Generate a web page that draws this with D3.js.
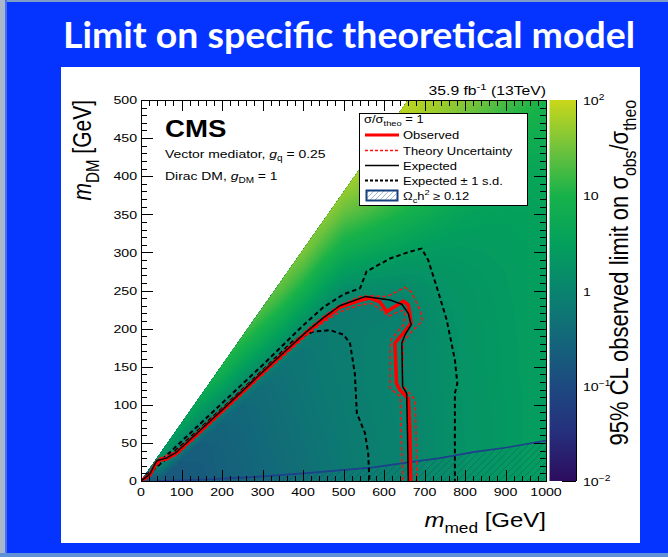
<!DOCTYPE html>
<html><head><meta charset="utf-8">
<script src="https://cdn.jsdelivr.net/npm/d3@7"></script>
<style>html,body{margin:0;padding:0;background:#0533ff;}svg{display:block;}</style>
</head><body>
<svg id="chart" width="668" height="557"></svg>
<script>
// ================= DATA =================
const titleText = "Limit on specific theoretical model";
const mMedNodes = [0,50,100,150,200,250,300,350,400,450,500,550,600,650,700,750,800,850,900,950,1000];
const mDMNodes  = [0,25,50,75,100,125,150,175,200,225,250,275,300,325,350,375,400,425,450,475,500];
// log10(sigma_obs/sigma_theo), one array per m_med node, values along m_DM nodes
const limitLog10 = [
 [-0.8,0.5,0.8,1.0,1.1,1.2,1.3,1.4,1.5,1.5,1.6,1.6,1.7,1.7,1.7,1.8,1.8,1.8,1.9,1.9,1.9],
 [-0.8,0.1,0.6,0.9,1.1,1.2,1.3,1.4,1.5,1.5,1.6,1.6,1.7,1.7,1.7,1.8,1.8,1.8,1.9,1.9,1.9],
 [-0.75,-0.72,0.1,0.55,0.9,1.1,1.25,1.35,1.45,1.5,1.55,1.6,1.65,1.7,1.7,1.75,1.8,1.8,1.85,1.9,1.9],
 [-0.7,-0.68,-0.66,0.1,0.5,0.9,1.1,1.25,1.35,1.45,1.5,1.55,1.6,1.65,1.7,1.75,1.8,1.8,1.85,1.9,1.9],
 [-0.63,-0.61,-0.59,-0.57,0.12,0.55,1.0,1.25,1.4,1.5,1.55,1.6,1.65,1.7,1.75,1.8,1.8,1.85,1.85,1.9,1.9],
 [-0.57,-0.55,-0.53,-0.51,-0.49,0.12,0.52,0.95,1.3,1.45,1.55,1.6,1.65,1.7,1.75,1.8,1.8,1.85,1.85,1.9,1.9],
 [-0.5,-0.48,-0.46,-0.44,-0.42,-0.4,0.15,0.55,0.95,1.3,1.5,1.6,1.65,1.7,1.75,1.8,1.8,1.85,1.85,1.9,1.9],
 [-0.43,-0.41,-0.39,-0.37,-0.35,-0.33,-0.31,0.15,0.55,0.95,1.3,1.55,1.65,1.7,1.75,1.8,1.8,1.85,1.85,1.9,1.9],
 [-0.36,-0.34,-0.32,-0.3,-0.28,-0.26,-0.25,-0.24,0.15,0.5,0.9,1.25,1.55,1.7,1.75,1.8,1.82,1.85,1.87,1.9,1.9],
 [-0.28,-0.27,-0.25,-0.23,-0.21,-0.19,-0.18,-0.17,-0.17,0.15,0.45,0.8,1.15,1.45,1.7,1.8,1.84,1.86,1.88,1.9,1.9],
 [-0.2,-0.19,-0.18,-0.17,-0.16,-0.15,-0.14,-0.13,-0.13,-0.15,0.15,0.45,0.8,1.1,1.4,1.65,1.8,1.85,1.88,1.9,1.92],
 [-0.13,-0.12,-0.11,-0.1,-0.09,-0.08,-0.08,-0.08,-0.09,-0.12,0.12,0.35,0.65,0.95,1.25,1.5,1.72,1.82,1.88,1.9,1.92],
 [-0.07,-0.07,-0.07,-0.06,-0.06,-0.04,-0.03,-0.03,-0.05,-0.12,0.1,0.3,0.55,0.82,1.1,1.35,1.58,1.75,1.86,1.9,1.92],
 [-0.03,-0.03,-0.03,-0.02,0.0,0.05,0.05,0.05,-0.04,-0.1,0.1,0.25,0.45,0.7,0.95,1.2,1.42,1.62,1.77,1.86,1.92],
 [0.08,0.08,0.08,0.08,0.09,0.1,0.1,0.1,0.06,0.1,0.18,0.27,0.4,0.58,0.8,1.02,1.25,1.45,1.62,1.75,1.85],
 [0.16,0.16,0.16,0.17,0.17,0.18,0.18,0.19,0.2,0.22,0.26,0.3,0.37,0.5,0.65,0.84,1.05,1.27,1.47,1.62,1.75],
 [0.24,0.24,0.24,0.25,0.25,0.26,0.26,0.27,0.27,0.28,0.3,0.33,0.38,0.45,0.56,0.7,0.88,1.07,1.27,1.45,1.62],
 [0.3,0.3,0.3,0.3,0.31,0.31,0.32,0.32,0.33,0.34,0.35,0.37,0.4,0.45,0.52,0.62,0.75,0.92,1.1,1.28,1.46],
 [0.36,0.36,0.36,0.36,0.36,0.37,0.37,0.37,0.38,0.38,0.39,0.4,0.42,0.46,0.5,0.56,0.64,0.77,0.93,1.1,1.28],
 [0.41,0.41,0.41,0.41,0.41,0.41,0.42,0.42,0.42,0.43,0.44,0.45,0.46,0.49,0.52,0.56,0.61,0.71,0.84,0.99,1.14],
 [0.45,0.45,0.45,0.45,0.45,0.45,0.46,0.46,0.46,0.47,0.48,0.49,0.5,0.52,0.55,0.58,0.62,0.7,0.8,0.9,1.0]
];
// region of the scan (m_med, m_DM)
const kinematicEdge = [[0,0],[660,500],[1000,500],[1000,0]];
// contours [m_med, m_DM]
const observed = [[0,0],[22,8],[35,21],[40,25],[47,28],[63,29],[88,37],[200,92],[300,142],[409,195],[450,212],[491,228],[541,237],[565,240],[590,235],[607,222],[627,229],[648,236],[660,231],[667,207],[648,194],[627,181],[631,128],[640,119],[660,108],[664,63],[666,0]];
const theoryUp = [[0,0],[22,10],[35,24],[47,30],[88,39],[200,94],[300,144],[409,198],[450,216],[491,231],[541,242],[565,243],[607,242],[652,254],[668,248],[689,224],[695,210],[668,196],[648,183],[646,126],[677,106],[682,0]];
const theoryDown = [[0,0],[22,6],[35,18],[47,25],[88,34],[200,89],[300,139],[409,191],[450,208],[491,222],[541,231],[570,233],[594,224],[611,216],[635,222],[648,224],[652,218],[648,205],[619,187],[615,176],[615,122],[640,111],[646,0]];
const expected = [[0,0],[22,9],[35,23],[40,27],[63,30],[88,38],[200,93],[300,143],[409,196],[450,214],[491,230],[553,242],[615,237.5],[644,232],[660,220],[667,205],[652,192],[644,181],[646,124],[656,115],[658,63],[660,0]];
const expectedUp = [[0,0],[50,27],[100,52],[200,102],[300,152],[400,204],[450,228],[500,245],[541,253],[557,275],[615,292],[664,301],[693,305],[709,290],[730,255],[755,211],[775,159],[781,128],[775,115],[775,0]];
const expectedDown = [[0,0],[100,47],[200,95],[300,145],[376,184],[425,196],[467,198],[500,192],[516,181],[528,141],[533,89],[553,63],[561,36],[564,0]];
const relicLine = [[40,0],[100,1],[160,2],[200,3],[300,6],[400,10],[467,13],[574,18],[656,24],[738,30],[820,38],[903,44],[1000,53]];
const xTickLabels = [0,100,200,300,400,500,600,700,800,900,1000];
const yTickLabels = [0,50,100,150,200,250,300,350,400,450,500];
const zTickValues = [0.01,0.1,1,10,100];
const zTickText = [["10","−2"],["10","−1"],["1",""],["10",""],["10","2"]];
const legendEntries = ["Observed","Theory Uncertainty","Expected","Expected ± 1 s.d."];

// ================= STYLE =================
const FONT = "'Liberation Sans', Arial, Helvetica, sans-serif";
const SX = 1.2; // horizontal stretch of the embedded plot image
const paletteDomain = [-2,-1.5,-1,-0.5,0,0.5,1,1.5,2];
const paletteColors = ["#2d0c5e","#262f7c","#1d4a80","#13677a","#09846e","#03a05c","#18b24a","#72c33c","#cad71a"];
const color = d3.scaleLinear().domain(paletteDomain).range(paletteColors).clamp(true);

const svg = d3.select("#chart");
const W = 668, H = 557;

// ---- slide background ----
svg.append("rect").attr("width",W).attr("height",H).attr("fill","#0533ff");
svg.append("rect").attr("x",0).attr("y",0).attr("width",W).attr("height",2).attr("fill","#7d9cc6");
svg.append("rect").attr("x",0).attr("y",0).attr("width",5).attr("height",H).attr("fill","#a9b6cc");
svg.append("rect").attr("x",5).attr("y",0).attr("width",2).attr("height",H).attr("fill","#4a6ee8");
svg.append("rect").attr("x",0).attr("y",553).attr("width",W).attr("height",4).attr("fill","#5f91d6");

svg.append("text").attr("x",349).attr("y",48).attr("text-anchor","middle")
  .attr("font-family","Lato, 'Open Sans', sans-serif").attr("font-weight",700)
  .attr("font-size",37).attr("fill","#ffffff")
  .attr("textLength",572).attr("lengthAdjust","spacingAndGlyphs").text(titleText);

svg.append("rect").attr("x",61).attr("y",67).attr("width",579).attr("height",476).attr("fill","#ffffff");

// ---- scales ----
const x = d3.scaleLinear().domain([0,1000]).range([141,546]);
const y = d3.scaleLinear().domain([0,500]).range([481,100]);
const z = d3.scaleLog().domain([0.01,100]).range([481,100]);

const defs = svg.append("defs");
defs.append("clipPath").attr("id","plotClip").append("rect")
  .attr("x",x(0)).attr("y",y(500)).attr("width",x(1000)-x(0)).attr("height",y(0)-y(500));
const edgeLine = d3.line().x(d=>x(d[0])).y(d=>y(d[1]));
defs.append("clipPath").attr("id","regionClip").append("path").attr("d",edgeLine(kinematicEdge)+"Z");

const hp = defs.append("pattern").attr("id","hatch").attr("patternUnits","userSpaceOnUse").attr("width",7).attr("height",7);
hp.append("path").attr("d","M-1,1 l2,-2 M0,7 l7,-7 M6,8 l2,-2").attr("stroke","#16406e").attr("stroke-opacity",0.4).attr("stroke-width",0.9);
const hl = defs.append("pattern").attr("id","hatchLeg").attr("patternUnits","userSpaceOnUse").attr("width",5).attr("height",5);
hl.append("rect").attr("width",5).attr("height",5).attr("fill","#fff");
hl.append("path").attr("d","M-1,1 l2,-2 M0,5 l5,-5 M4,6 l2,-2").attr("stroke","#9ab5d8").attr("stroke-width",0.9);

// ---- heat map (filled contours of the grid) ----
const nx = mMedNodes.length, ny = mDMNodes.length;
const values = new Array(nx*ny);
for (let j=0;j<ny;j++) for (let i=0;i<nx;i++) values[j*nx+i] = limitLog10[i][j];
const step = 0.04;
const bands = d3.contours().size([nx,ny]).thresholds(d3.range(-2,2,step))(values);
const gx = d3.scaleLinear().domain([0.5,nx-0.5]).range([mMedNodes[0],mMedNodes[nx-1]]);
const gy = d3.scaleLinear().domain([0.5,ny-0.5]).range([mDMNodes[0],mDMNodes[ny-1]]);
const gridPath = d3.geoPath(d3.geoTransform({point(px,py){ this.stream.point(x(gx(px)), y(gy(py))); }}));
const heat = svg.append("g").attr("clip-path","url(#plotClip)").append("g").attr("clip-path","url(#regionClip)");
heat.selectAll("path").data(bands).join("path")
  .attr("d",gridPath).attr("fill",d=>color(d.value+step/2));

// ---- relic density ----
const plotG = svg.append("g").attr("clip-path","url(#plotClip)");
const line = d3.line().x(d=>x(d[0])).y(d=>y(d[1]));
plotG.append("path").attr("d",line(relicLine.concat([[1000,0],[relicLine[0][0],0]]))+"Z")
  .attr("fill","url(#hatch)");
plotG.append("path").attr("d",line(relicLine)).attr("fill","none").attr("stroke","#1d3f8c").attr("stroke-width",1.7);

// ---- contours ----
const dashBlack = "4.5,3", dashRed = "3.5,2.5";
[expectedUp, expectedDown].forEach(c=>plotG.append("path").attr("d",line(c)).attr("fill","none")
  .attr("stroke","#000").attr("stroke-width",2).attr("stroke-dasharray",dashBlack));
[theoryUp, theoryDown].forEach(c=>plotG.append("path").attr("d",line(c)).attr("fill","none")
  .attr("stroke","#ff1010").attr("stroke-width",1.5).attr("stroke-dasharray",dashRed));
plotG.append("path").attr("d",line(observed)).attr("fill","none").attr("stroke","#ff0000").attr("stroke-width",3.6).attr("stroke-linejoin","round");
plotG.append("path").attr("d",line(expected)).attr("fill","none").attr("stroke","#000").attr("stroke-width",1.5).attr("stroke-linejoin","round");

// ---- axes (ticks inside) ----
const axG = svg.append("g").attr("shape-rendering","crispEdges");
function addAxis(axisFn, scale, vals, size, tx, ty){
  const g = axG.append("g").attr("transform",`translate(${tx},${ty})`)
    .call(axisFn(scale).tickValues(vals).tickSize(-size).tickFormat(""));
  g.select(".domain").remove();
  g.selectAll("line").attr("stroke","#000");
}
const xMinor = d3.range(0,1001,20).filter(v=>xTickLabels.indexOf(v)<0);
const yMinor = d3.range(0,501,10).filter(v=>yTickLabels.indexOf(v)<0);
addAxis(d3.axisBottom, x, xTickLabels, 11, 0, y(0));
addAxis(d3.axisBottom, x, xMinor, 5.5, 0, y(0));
addAxis(d3.axisTop, x, xTickLabels, 11, 0, y(500));
addAxis(d3.axisTop, x, xMinor, 5.5, 0, y(500));
addAxis(d3.axisLeft, y, yTickLabels, 12, x(0), 0);
addAxis(d3.axisLeft, y, yMinor, 6, x(0), 0);
addAxis(d3.axisRight, y, yTickLabels, 12, x(1000), 0);
addAxis(d3.axisRight, y, yMinor, 6, x(1000), 0);
svg.append("rect").attr("x",x(0)).attr("y",y(500)).attr("width",x(1000)-x(0)).attr("height",y(0)-y(500))
  .attr("fill","none").attr("stroke","#000").attr("stroke-width",1).attr("shape-rendering","crispEdges");

// ---- text helpers ----
function stext(xp, yp, size, anchor, rot){
  return svg.append("text")
    .attr("transform",`translate(${xp},${yp}) scale(${SX},1)` + (rot ? ` rotate(${rot})` : ""))
    .attr("font-family",FONT).attr("font-size",size).attr("text-anchor",anchor).attr("fill","#000");
}
function rich(sel, parts, fs){
  let shift = 0;
  parts.forEach(p=>{
    const ts = sel.append("tspan").text(p.t);
    let target = 0, size = fs;
    if (p.sub){ target = 0.32*fs; size = 0.72*fs; }
    if (p.sup){ target = -0.42*fs; size = 0.72*fs; }
    ts.attr("font-size",size).attr("dy",target-shift);
    shift = target;
    if (p.i) ts.attr("font-style","italic");
    if (p.b) ts.attr("font-weight","bold");
  });
  return sel;
}

// tick labels
xTickLabels.forEach(v=>stext(x(v), 496, 11.8, "middle").text(v));
yTickLabels.forEach(v=>stext(137, y(v)+4.2, 11.8, "end").text(v));

// axis titles
rich(stext(546, 527, 20, "end"), [{t:"m",i:true},{t:"med",sub:true},{t:" [GeV]"}], 20);
rich(stext(91, 100, 21, "end", -90), [{t:"m",i:true},{t:"DM",sub:true},{t:" [GeV]"}], 21);

// annotations
stext(165, 137, 23, "start").attr("font-weight","bold").text("CMS");
rich(stext(165, 157.5, 11.6, "start"), [{t:"Vector mediator, "},{t:"g",i:true},{t:"q",sub:true},{t:" = 0.25"}], 11.6);
rich(stext(165, 179.5, 11.6, "start"), [{t:"Dirac DM, "},{t:"g",i:true},{t:"DM",sub:true},{t:" = 1"}], 11.6);
rich(stext(546, 95, 13.1, "end"), [{t:"35.9 fb"},{t:"-1",sup:true},{t:" (13TeV)"}], 13.1);

// ---- legend ----
const lg = svg.append("g");
lg.append("rect").attr("x",359.5).attr("y",113.5).attr("width",168).attr("height",92)
  .attr("fill","#fff").attr("stroke","#000").attr("stroke-width",1).attr("shape-rendering","crispEdges");
rich(stext(364, 123, 10.8, "start"), [{t:"σ/σ"},{t:"theo",sub:true},{t:" = 1"}], 10.8);
const rowY = [139,154.5,169.5,184.5];
const sampleStyles = [
  {c:"#ff0000", w:3.2, d:null},
  {c:"#ff1010", w:1.4, d:"3,2"},
  {c:"#000", w:1.5, d:null},
  {c:"#000", w:2, d:"3,2"}
];
legendEntries.forEach((t,k)=>{
  const s = sampleStyles[k];
  const ln = lg.append("line").attr("x1",365).attr("x2",399).attr("y1",rowY[k]-4).attr("y2",rowY[k]-4)
    .attr("stroke",s.c).attr("stroke-width",s.w);
  if (s.d) ln.attr("stroke-dasharray",s.d);
  stext(403, rowY[k], 10.8, "start").text(t);
});
lg.append("rect").attr("x",366.5).attr("y",190.5).attr("width",31).attr("height",10)
  .attr("fill","url(#hatchLeg)").attr("stroke","#17407e").attr("stroke-width",2);
rich(stext(403, 200, 10.8, "start"), [{t:"Ω"},{t:"c",sub:true},{t:"h"},{t:"2",sup:true},{t:" ≥ 0.12"}], 10.8);

// ---- colour bar ----
const grad = defs.append("linearGradient").attr("id","zgrad").attr("x1",0).attr("y1",1).attr("x2",0).attr("y2",0);
paletteDomain.forEach((v,k)=>grad.append("stop").attr("offset",(v+2)/4).attr("stop-color",paletteColors[k]));
const cbX0 = 549.5, cbX1 = 576;
svg.append("rect").attr("x",cbX0).attr("y",z(100)).attr("width",cbX1-cbX0).attr("height",z(0.01)-z(100)).attr("fill","url(#zgrad)");
const zMinor = [];
[0.01,0.1,1,10].forEach(d=>{ for(let k=2;k<=9;k++) zMinor.push(d*k); });
addAxis(d3.axisRight, z, zTickValues, 14, cbX1, 0);
addAxis(d3.axisRight, z, zMinor, 7.5, cbX1, 0);
svg.append("line").attr("x1",cbX1).attr("x2",cbX1).attr("y1",z(100)).attr("y2",z(0.01)).attr("stroke","#000").attr("shape-rendering","crispEdges");
zTickValues.forEach((v,k)=>{
  const parts = [{t:zTickText[k][0]}];
  if (zTickText[k][1]) parts.push({t:zTickText[k][1], sup:true});
  rich(stext(583, z(v)+5, 11.8, "start"), parts, 11.8);
});
rich(stext(628, 100, 22, "end", -90),
  [{t:"95% CL observed limit on σ"},{t:"obs",sub:true},{t:"/σ"},{t:"theo",sub:true}], 22);
</script>
</body></html>
